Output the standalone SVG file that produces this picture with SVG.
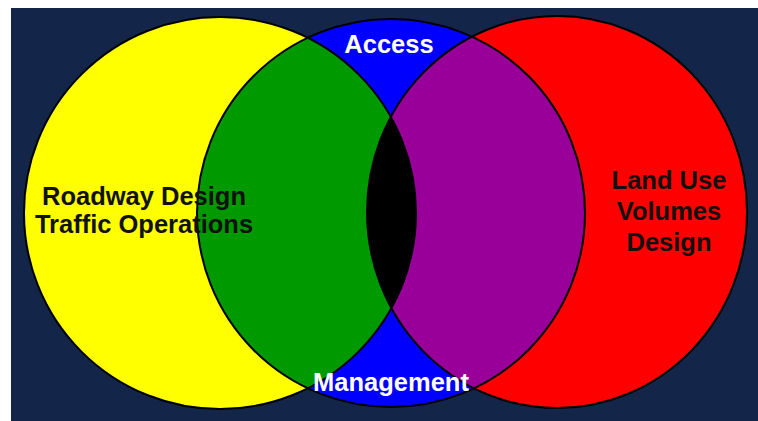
<svg xmlns="http://www.w3.org/2000/svg" width="758" height="421" viewBox="0 0 758 421">
<style>
.lbl{font-family:"Liberation Sans",Arial,sans-serif;font-weight:bold;font-size:25.5px;text-anchor:middle}
.dark{fill:#111111}
.light{fill:#ffffff}
.edge{fill:none;stroke:#000000;stroke-width:2}
</style>
<defs>
<clipPath id="clipBlue"><circle cx="391" cy="213" r="194"/></clipPath>
<clipPath id="clipRed"><ellipse cx="557" cy="212" rx="190" ry="196"/></clipPath>
</defs>
<rect x="0" y="0" width="758" height="421" fill="#ffffff"/>
<rect x="11" y="8" width="747" height="413" fill="#13264a"/>
<g id="yellow-circle">
<circle cx="220" cy="213" r="196" fill="#ffff00"/>
</g>
<g id="red-circle">
<ellipse cx="557" cy="212" rx="190" ry="196" fill="#ff0000"/>
</g>
<g id="blue-circle">
<circle cx="391" cy="213" r="194" fill="#0000ff"/>
</g>
<g id="overlaps">
<circle cx="220" cy="213" r="196" fill="#009900" clip-path="url(#clipBlue)"/>
<g clip-path="url(#clipBlue)">
<ellipse cx="557" cy="212" rx="190" ry="196" fill="#990099"/>
</g>
<g clip-path="url(#clipBlue)">
<circle cx="220" cy="213" r="196" fill="#000000" clip-path="url(#clipRed)"/>
</g>
</g>
<g id="outlines">
<circle class="edge" cx="220" cy="213" r="196"/>
<ellipse class="edge" cx="557" cy="212" rx="190" ry="196"/>
<circle class="edge" cx="391" cy="213" r="194"/>
</g>
<g id="labels">
<text class="lbl light" x="389" y="53">Access</text>
<text class="lbl light" x="391" y="391">Management</text>
<text class="lbl dark" x="144" y="205">Roadway Design</text>
<text class="lbl dark" x="144" y="233">Traffic Operations</text>
<text class="lbl dark" x="669" y="189">Land Use</text>
<text class="lbl dark" x="669" y="220">Volumes</text>
<text class="lbl dark" x="669" y="251">Design</text>
</g>
</svg>
